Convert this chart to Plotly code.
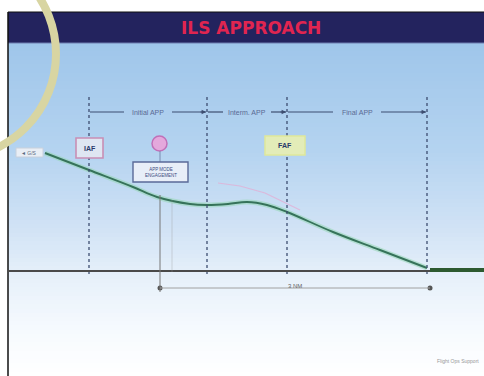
import plotly.graph_objects as go
import numpy as np

# ---- data (chart units: x = distance along track, y = height, screen-down axis) ----
segment_bounds = [89, 207, 287, 427]            # IAF, IF, FAF, threshold
segment_labels = ["Initial APP", "Interm. APP", "Final APP"]
path_x = [45, 89, 133, 157, 190, 207, 228, 247, 267, 287, 333, 380, 427]
path_y = [153, 170, 187, 197, 204, 205, 204, 202, 205, 212, 232, 250, 268]
runway_x = [430, 484]
runway_y = [270, 270]
gs_x = [218, 240, 265, 300]
gs_y = [183, 186, 193, 210]
ground_level = 271
dist_start, dist_end = 160, 430
dist_label = "3 NM"
title_text = "ILS APPROACH"
fix_iaf, fix_faf = "IAF", "FAF"
app_box_text = "APP MODE<br>ENGAGEMENT"
credit_text = "Flight Ops Support"

fig = go.Figure()

# background gradient (light blue to white)
edges = np.linspace(43, 376, 80)
centres = (edges[:-1] + edges[1:]) / 2
fig.add_trace(go.Heatmap(
    x=[8, 484], y=edges, z=[[c] for c in centres],
    colorscale=[[0, "#9fc6ea"], [0.32, "#b4d3f0"], [0.55, "#d0e2f5"],
                [0.7, "#e6f0fa"], [0.86, "#f6fafe"], [1, "#ffffff"]],
    zmin=43, zmax=376, showscale=False, hoverinfo="skip"))

# glide slope faint lines
fig.add_trace(go.Scatter(x=gs_x, y=gs_y, mode="lines",
                         line=dict(color="rgba(230,170,210,0.7)", width=1.2), hoverinfo="skip"))
# flight path glow + line
fig.add_trace(go.Scatter(x=path_x, y=path_y, mode="lines", line_shape="spline",
                         line=dict(color="rgba(150,215,180,0.55)", width=5), hoverinfo="skip"))
fig.add_trace(go.Scatter(x=path_x, y=path_y, mode="lines", line_shape="spline",
                         line=dict(color="#36735a", width=1.9), hoverinfo="skip"))

shapes = []
# title bar
shapes.append(dict(type="rect", x0=8, x1=484, y0=12, y1=43, fillcolor="#23235e",
                   line=dict(width=0), layer="above"))
shapes.append(dict(type="line", x0=8, x1=484, y0=43, y1=43, line=dict(color="#6f7fb0", width=1)))
# borders
shapes.append(dict(type="line", x0=8, x1=8, y0=12, y1=376, line=dict(color="#111", width=1.5)))
shapes.append(dict(type="line", x0=8, x1=484, y0=12, y1=12, line=dict(color="#111", width=1.2)))
# vertical dashed fix lines
for xb in segment_bounds:
    shapes.append(dict(type="line", x0=xb, x1=xb, y0=97, y1=276,
                       line=dict(color="#3d4d70", width=1.3, dash="3px,3px")))
# ground
shapes.append(dict(type="line", x0=8, x1=484, y0=ground_level, y1=ground_level,
                   line=dict(color="#4a4a4a", width=2)))
# runway
shapes.append(dict(type="line", x0=runway_x[0], x1=runway_x[1], y0=runway_y[0], y1=runway_y[1],
                   line=dict(color="#2d5a30", width=4)))
# segment arrows at top
arrow_y = 112
for i, lab in enumerate(segment_labels):
    a, b = segment_bounds[i], segment_bounds[i + 1]
    mid = (a + b) / 2
    half = 24
    shapes.append(dict(type="line", x0=a + 1, x1=mid - half, y0=arrow_y, y1=arrow_y,
                       line=dict(color="#3d4d70", width=1.2)))
    shapes.append(dict(type="line", x0=mid + half, x1=b - 1, y0=arrow_y, y1=arrow_y,
                       line=dict(color="#3d4d70", width=1.2)))
    fig.add_annotation(x=mid, y=arrow_y, text=lab, showarrow=False,
                       font=dict(size=7, color="#5a6a94", family="Liberation Sans"))
    fig.add_annotation(x=b - 1, y=arrow_y, ax=b - 8, ay=arrow_y, axref="x", ayref="y",
                       text="", showarrow=True, arrowhead=2, arrowsize=0.8,
                       arrowwidth=1.1, arrowcolor="#3d4d70")
# IAF box
shapes.append(dict(type="rect", x0=76, x1=103, y0=138, y1=158, fillcolor="#dfe6f2",
                   line=dict(color="#c98fb5", width=1.6)))
fig.add_annotation(x=89.5, y=148, text="<b>" + fix_iaf + "</b>", showarrow=False,
                   font=dict(size=7, color="#2a3a6a", family="Liberation Sans"))
# circle
shapes.append(dict(type="circle", x0=152, x1=167, y0=136, y1=151, fillcolor="#e4a8dc",
                   line=dict(color="#c070b8", width=1.5)))
shapes.append(dict(type="line", x0=160, x1=160, y0=151, y1=162, line=dict(color="#7a8ab0", width=1)))
# APP mode box
shapes.append(dict(type="rect", x0=133, x1=188, y0=162, y1=182, fillcolor="#e8eef8",
                   line=dict(color="#5a6a98", width=1.4)))
fig.add_annotation(x=160.5, y=172, text=app_box_text, showarrow=False,
                   font=dict(size=4.5, color="#3a4a80", family="Liberation Sans"))
# FAF box
shapes.append(dict(type="rect", x0=265, x1=305, y0=136, y1=155, fillcolor="#e3ecb8",
                   line=dict(color="#dfe79a", width=1.5)))
fig.add_annotation(x=285, y=145.5, text="<b>" + fix_faf + "</b>", showarrow=False,
                   font=dict(size=7, color="#2a3a6a", family="Liberation Sans"))
# left label box
shapes.append(dict(type="rect", x0=16, x1=43, y0=148, y1=157, fillcolor="#e9eef5",
                   line=dict(color="#c8d0dc", width=1)))
fig.add_annotation(x=29, y=152.5, text="◄ G/S", showarrow=False,
                   font=dict(size=5, color="#5a6a80", family="Liberation Sans"))
# distance reference lines
shapes.append(dict(type="line", x0=dist_start, x1=dist_start, y0=195, y1=292,
                   line=dict(color="#777", width=1)))
shapes.append(dict(type="line", x0=172, x1=172, y0=200, y1=272,
                   line=dict(color="rgba(150,150,150,0.35)", width=1)))
shapes.append(dict(type="line", x0=dist_start, x1=dist_end, y0=288, y1=288,
                   line=dict(color="#a0a0a0", width=1)))
# yellow arc (drawn last so it overlays the title bar)
shapes.append(dict(type="circle", x0=-151, x1=56, y0=-50, y1=158,
                   line=dict(color="#d8d5a2", width=8), layer="above"))

fig.add_trace(go.Scatter(x=[dist_start, dist_end], y=[288, 288], mode="markers",
                         marker=dict(color="#555", size=5), hoverinfo="skip"))
fig.add_annotation(x=(dist_start + dist_end) / 2, y=286, text=dist_label, showarrow=False,
                   font=dict(size=6, color="#666", family="Liberation Sans"))

# title
fig.add_annotation(x=251, y=27.5, text="<b>" + title_text + "</b>", showarrow=False,
                   font=dict(size=17, color="#e02550", family="DejaVu Sans"))
# credit
fig.add_annotation(x=458, y=361, text=credit_text, showarrow=False,
                   font=dict(size=5, color="#999", family="Liberation Sans"))

fig.update_layout(
    width=484, height=376, margin=dict(l=0, r=0, t=0, b=0),
    paper_bgcolor="white", plot_bgcolor="white", showlegend=False, shapes=shapes,
    xaxis=dict(range=[0, 484], visible=False, fixedrange=True),
    yaxis=dict(range=[376, 0], visible=False, fixedrange=True),
)
fig.write_html("out.html")
